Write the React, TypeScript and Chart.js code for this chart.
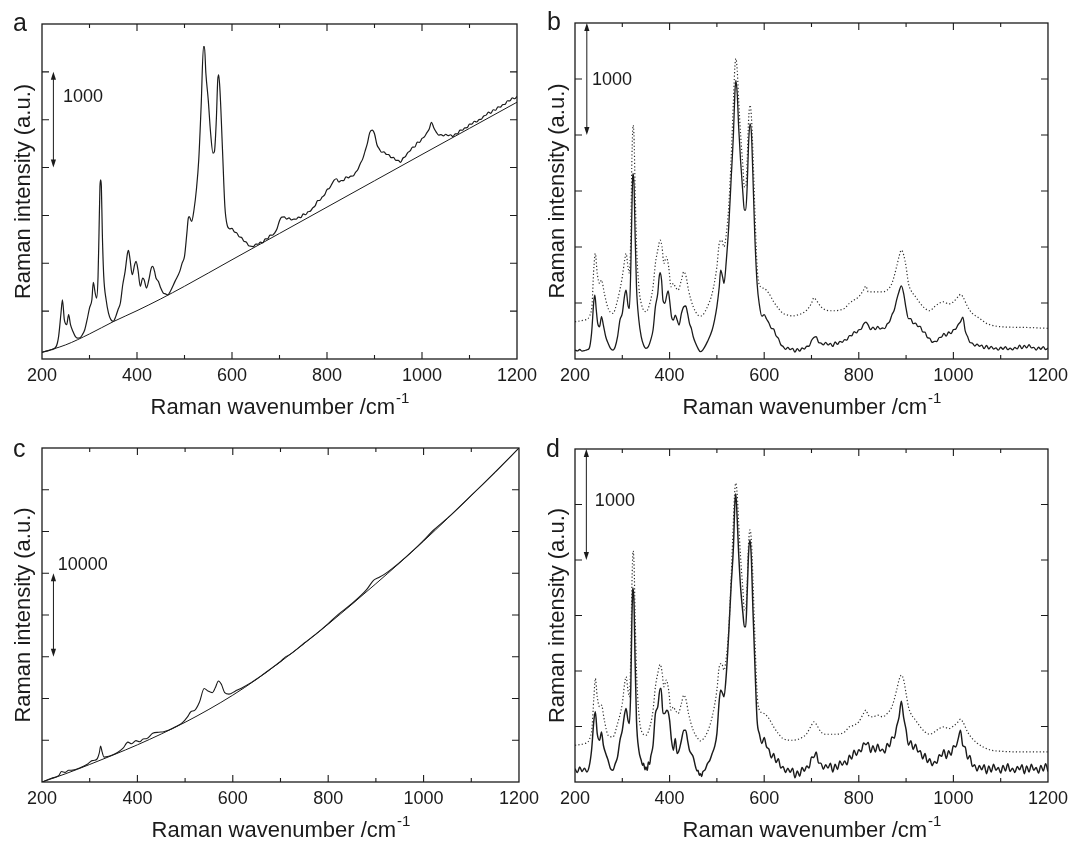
import React, { useEffect, useRef } from "react";
import { Chart, registerables } from "chart.js";

Chart.register(...registerables);

type Pt = [number, number];

const FONT = '"Liberation Sans", Arial, Helvetica, sans-serif';
const INK = "#1b1b1b";

// ---- Panel a: raw spectrum and fitted background ----
const SPECTRUM_A: Pt[] = [
  [200, 70], [210, 82], [220, 97], [230, 132], [235, 237], [240, 480], [243, 619], [247, 411], [252, 359], [256, 463],
  [260, 359], [265, 289], [270, 237], [275, 218], [280, 222], [285, 254], [290, 306], [295, 411], [300, 532], [305, 619],
  [308, 800], [312, 689], [315, 637], [318, 863], [320, 1315], [322, 1803], [323.5, 1872], [325, 1803], [327, 1315], [330, 863],
  [335, 619], [340, 480], [345, 411], [350, 393], [355, 440], [360, 515], [365, 585], [370, 776], [375, 915], [380, 1107],
  [382, 1134], [385, 1054], [390, 880], [395, 985], [398, 1020], [402, 933], [407, 759], [412, 846], [415, 828], [420, 741],
  [425, 828], [430, 950], [433, 967], [437, 915], [440, 846], [445, 811], [450, 741], [455, 692], [460, 680], [465, 670],
  [470, 706], [480, 811], [490, 915], [495, 1002], [500, 1072], [505, 1315], [508, 1472], [510, 1489], [515, 1437], [520, 1559],
  [525, 1768], [530, 2081], [535, 2638], [540, 3264], [542, 3264], [545, 2986], [550, 2707], [555, 2359], [560, 2151], [563, 2168],
  [567, 2499], [570, 2916], [572, 2968], [575, 2777], [580, 2185], [585, 1594], [590, 1395], [595, 1360], [600, 1364], [605, 1327],
  [610, 1318], [615, 1277], [620, 1271], [625, 1231], [630, 1223], [635, 1183], [640, 1178], [645, 1174], [650, 1200], [655, 1199],
  [660, 1222], [665, 1214], [670, 1256], [675, 1255], [680, 1295], [685, 1293], [690, 1318], [695, 1364], [700, 1445], [705, 1483],
  [710, 1484], [715, 1462], [720, 1474], [725, 1452], [730, 1461], [735, 1460], [740, 1483], [745, 1476], [750, 1517], [755, 1507],
  [760, 1538], [765, 1545], [770, 1579], [775, 1599], [780, 1654], [785, 1657], [790, 1693], [795, 1714], [800, 1770], [805, 1783],
  [810, 1826], [815, 1869], [820, 1883], [825, 1849], [830, 1865], [835, 1864], [840, 1904], [845, 1893], [850, 1910], [855, 1912],
  [860, 1950], [865, 1979], [870, 2041], [875, 2088], [880, 2170], [885, 2252], [890, 2365], [895, 2391], [900, 2353], [905, 2241],
  [910, 2195], [915, 2160], [920, 2165], [925, 2137], [930, 2136], [935, 2103], [940, 2106], [945, 2075], [950, 2076], [955, 2054],
  [960, 2100], [965, 2114], [970, 2157], [975, 2174], [980, 2214], [985, 2215], [990, 2265], [995, 2264], [1000, 2304], [1005, 2320],
  [1010, 2362], [1015, 2400], [1020, 2472], [1025, 2414], [1030, 2371], [1035, 2340], [1040, 2344], [1045, 2331], [1050, 2348], [1055, 2334],
  [1060, 2343], [1065, 2323], [1070, 2352], [1075, 2352], [1080, 2391], [1085, 2390], [1090, 2415], [1095, 2417], [1100, 2454], [1105, 2453],
  [1110, 2484], [1115, 2476], [1120, 2501], [1125, 2505], [1130, 2539], [1135, 2548], [1140, 2579], [1145, 2567], [1150, 2604], [1155, 2599],
  [1160, 2634], [1165, 2632], [1170, 2658], [1175, 2660], [1180, 2698], [1185, 2697], [1190, 2728], [1195, 2719], [1200, 2744],
];

const BASELINE_A: Pt[] = [
  [200, 70], [250, 148], [300, 262], [350, 390], [400, 505], [450, 628], [500, 760], [600, 1037],
  [700, 1312], [800, 1587], [900, 1862], [1000, 2137], [1100, 2410], [1200, 2683],
];

// ---- Panel b: background-subtracted spectrum (solid) and reference (dotted) ----
const SOLID_B: Pt[] = [
  [200, 80], [205, 72], [210, 85], [215, 70], [220, 74], [225, 82], [230, 95], [235, 229], [240, 526], [242, 571],
  [245, 437], [248, 318], [252, 288], [256, 378], [260, 303], [265, 199], [270, 140], [275, 95], [280, 80], [285, 110],
  [290, 199], [295, 348], [300, 407], [305, 571], [308, 615], [312, 482], [315, 452], [318, 824], [320, 1269], [322, 1626],
  [323, 1656], [325, 1537], [327, 1121], [330, 645], [335, 348], [340, 199], [345, 125], [350, 95], [355, 110], [360, 169],
  [365, 259], [370, 467], [375, 586], [378, 734], [380, 770], [383, 705], [386, 526], [390, 497], [394, 571], [397, 609],
  [400, 526], [404, 378], [408, 348], [412, 392], [416, 348], [420, 303], [425, 407], [430, 467], [434, 473], [438, 407],
  [442, 318], [446, 273], [450, 199], [455, 140], [460, 95], [465, 65], [470, 80], [480, 155], [490, 259], [495, 348],
  [500, 467], [505, 645], [508, 794], [512, 734], [515, 675], [520, 883], [525, 1180], [530, 1596], [535, 2013], [538, 2369],
  [540, 2488], [543, 2369], [546, 2072], [550, 1775], [555, 1478], [558, 1329], [561, 1329], [564, 1537], [567, 1924], [570, 2102],
  [573, 2013], [576, 1656], [580, 1121], [585, 675], [590, 479], [595, 382], [600, 396], [605, 357], [610, 322], [615, 274],
  [620, 269], [625, 207], [630, 185], [635, 128], [640, 112], [645, 86], [650, 103], [655, 84], [660, 94], [665, 62],
  [670, 92], [675, 70], [680, 98], [685, 89], [690, 114], [695, 114], [700, 165], [705, 191], [710, 200], [715, 148],
  [720, 142], [725, 126], [730, 148], [735, 126], [740, 139], [745, 112], [750, 152], [755, 130], [760, 158], [765, 149],
  [770, 173], [775, 169], [780, 209], [785, 207], [790, 245], [795, 233], [800, 261], [805, 266], [810, 311], [815, 330],
  [820, 302], [825, 262], [830, 285], [835, 263], [840, 291], [845, 267], [850, 277], [855, 272], [860, 313], [865, 332],
  [870, 394], [875, 438], [880, 528], [885, 601], [890, 653], [895, 582], [900, 451], [905, 360], [910, 360], [915, 315],
  [920, 321], [925, 289], [930, 292], [935, 242], [940, 239], [945, 191], [950, 185], [955, 148], [960, 157], [965, 156],
  [970, 192], [975, 195], [980, 228], [985, 204], [990, 241], [995, 226], [1000, 262], [1005, 267], [1010, 307], [1015, 332],
  [1020, 373], [1025, 251], [1030, 200], [1035, 148], [1040, 142], [1045, 116], [1050, 133], [1055, 114], [1060, 124], [1065, 92],
  [1070, 122], [1075, 90], [1080, 113], [1085, 89], [1090, 99], [1095, 79], [1100, 105], [1105, 87], [1110, 111], [1115, 83],
  [1120, 97], [1125, 81], [1130, 103], [1135, 91], [1140, 124], [1145, 92], [1150, 122], [1155, 100], [1160, 128], [1165, 99],
  [1170, 104], [1175, 79], [1180, 105], [1185, 87], [1190, 111], [1195, 83], [1200, 97],
];

const DOTTED_B: Pt[] = [
  [200, 333], [220, 348], [235, 437], [240, 824], [243, 942], [247, 764], [252, 675], [256, 705], [262, 586], [270, 452],
  [280, 407], [290, 526], [300, 734], [305, 883], [308, 942], [312, 824], [315, 764], [318, 1121], [320, 1715], [322, 2042],
  [323, 2087], [325, 1953], [327, 1537], [330, 1032], [335, 645], [340, 497], [350, 422], [360, 526], [365, 645], [370, 853],
  [375, 972], [380, 1061], [384, 1002], [388, 853], [393, 913], [398, 824], [403, 645], [408, 675], [412, 645], [418, 615],
  [425, 705], [430, 779], [435, 734], [440, 615], [450, 467], [460, 392], [465, 384], [470, 392], [480, 467], [490, 586],
  [500, 824], [505, 1032], [510, 1061], [515, 1002], [520, 1121], [525, 1359], [530, 1775], [535, 2310], [538, 2607], [540, 2682],
  [543, 2577], [546, 2310], [550, 2013], [555, 1715], [558, 1537], [561, 1537], [564, 1775], [567, 2132], [570, 2266], [573, 2161],
  [576, 1864], [580, 1359], [585, 824], [590, 660], [600, 630], [610, 586], [620, 511], [630, 452], [640, 407], [650, 392],
  [660, 384], [670, 392], [680, 407], [690, 437], [700, 497], [705, 547], [710, 526], [720, 467], [730, 437], [740, 431],
  [750, 431], [760, 437], [770, 452], [780, 497], [790, 526], [800, 556], [810, 615], [815, 651], [820, 600], [830, 600],
  [840, 600], [850, 600], [860, 615], [870, 675], [880, 824], [885, 913], [890, 972], [895, 928], [900, 824], [905, 675],
  [910, 615], [920, 556], [930, 497], [940, 452], [950, 431], [960, 467], [970, 497], [980, 511], [990, 491], [1000, 511],
  [1010, 556], [1015, 577], [1020, 556], [1030, 467], [1040, 407], [1050, 378], [1060, 348], [1070, 318], [1080, 303], [1100, 288],
  [1150, 282], [1200, 274],
];

// ---- Panel c: raw spectrum on a strong fluorescence background ----
const SPECTRUM_C: Pt[] = [
  [200, 0], [220, 450], [235, 760], [241, 1250], [248, 1150], [256, 1400], [265, 1420], [280, 1700], [295, 2130], [305, 2560],
  [310, 2600], [316, 2800], [320, 3450], [323, 4300], [326, 3600], [330, 2980], [340, 3080], [350, 3290], [360, 3600], [370, 4050],
  [380, 4780], [388, 4580], [397, 4950], [405, 4820], [412, 5150], [420, 5200], [432, 5830], [445, 5960], [455, 6020], [465, 6190],
  [480, 6610], [495, 7140], [505, 7800], [512, 8420], [520, 8580], [530, 9550], [540, 11200], [548, 10900], [557, 10700], [563, 11250],
  [570, 12100], [576, 11700], [583, 10700], [592, 10520], [605, 10880], [620, 11300], [640, 11960], [660, 12740], [680, 13580], [700, 14430],
  [710, 14960], [720, 15280], [750, 16640], [780, 17980], [800, 18960], [820, 20010], [850, 21380], [880, 23000], [895, 24150], [905, 24450],
  [920, 24950], [950, 26300], [980, 27820], [1000, 28930], [1020, 30120], [1050, 31600], [1100, 34320], [1150, 37120], [1200, 40000],
];

const BASELINE_C: Pt[] = [
  [200, 0], [250, 1000], [300, 2100], [350, 3250], [400, 4450], [450, 5750], [500, 7150], [550, 8700], [600, 10400], [650, 12300],
  [700, 14400], [750, 16600], [800, 18900], [850, 21300], [900, 23750], [950, 26250], [1000, 28850], [1050, 31550], [1100, 34300],
  [1150, 37100], [1200, 40000],
];

// ---- Panel d: background-subtracted spectrum (solid) and reference (dotted) ----
const SOLID_D: Pt[] = [
  [200, 120], [205, 85], [210, 135], [215, 95], [220, 125], [225, 90], [230, 140], [235, 286], [240, 557], [243, 632],
  [247, 436], [252, 376], [256, 451], [260, 331], [265, 256], [270, 196], [275, 120], [280, 105], [285, 165], [290, 226],
  [295, 376], [300, 466], [305, 617], [308, 662], [312, 557], [315, 527], [318, 858], [320, 1399], [322, 1730], [323, 1745],
  [325, 1580], [327, 1098], [330, 557], [335, 286], [340, 196], [343, 150], [345, 170], [348, 110], [350, 135], [353, 105],
  [355, 180], [358, 160], [360, 226], [365, 331], [370, 617], [375, 677], [380, 843], [382, 843], [386, 617], [390, 617],
  [394, 647], [397, 632], [400, 557], [404, 376], [408, 286], [412, 391], [416, 256], [420, 286], [425, 376], [430, 466],
  [434, 466], [438, 376], [442, 286], [446, 256], [450, 226], [455, 135], [458, 100], [460, 105], [463, 60], [465, 75],
  [468, 50], [470, 90], [475, 110], [480, 165], [485, 195], [490, 256], [495, 316], [500, 436], [505, 737], [508, 828],
  [512, 798], [515, 767], [520, 978], [525, 1339], [530, 1760], [535, 2121], [538, 2512], [540, 2597], [543, 2362], [546, 2061],
  [550, 1760], [555, 1520], [558, 1399], [561, 1399], [564, 1700], [567, 2061], [570, 2182], [573, 2001], [576, 1580], [580, 1098],
  [585, 557], [590, 431], [595, 346], [600, 401], [605, 316], [610, 296], [615, 216], [620, 256], [625, 175], [630, 210],
  [635, 125], [640, 140], [645, 85], [650, 125], [655, 87], [660, 125], [665, 37], [670, 100], [675, 52], [680, 130],
  [685, 97], [690, 145], [695, 125], [700, 226], [705, 221], [710, 271], [715, 170], [720, 170], [725, 115], [730, 155],
  [735, 125], [740, 170], [745, 90], [750, 160], [755, 112], [760, 190], [765, 150], [770, 190], [775, 155], [780, 241],
  [785, 206], [790, 286], [795, 238], [800, 291], [805, 273], [810, 351], [815, 336], [820, 357], [825, 266], [830, 326],
  [835, 271], [840, 341], [845, 278], [850, 296], [855, 261], [860, 346], [865, 318], [870, 406], [875, 395], [880, 501],
  [885, 582], [890, 727], [895, 577], [900, 471], [905, 331], [910, 371], [915, 293], [920, 341], [925, 271], [930, 281],
  [935, 208], [940, 256], [945, 175], [950, 210], [955, 147], [960, 185], [965, 168], [970, 246], [975, 231], [980, 291],
  [985, 211], [990, 281], [995, 241], [1000, 326], [1005, 316], [1010, 386], [1015, 466], [1020, 326], [1025, 316], [1030, 206],
  [1035, 240], [1040, 140], [1045, 155], [1050, 100], [1055, 148], [1060, 110], [1065, 155], [1070, 75], [1075, 145], [1080, 90],
  [1085, 160], [1090, 105], [1095, 130], [1100, 80], [1105, 150], [1110, 100], [1115, 165], [1120, 95], [1125, 125], [1130, 85],
  [1135, 140], [1140, 110], [1145, 155], [1150, 75], [1155, 145], [1160, 90], [1165, 160], [1170, 105], [1175, 130], [1180, 80],
  [1185, 150], [1190, 100], [1195, 165], [1200, 95],
];

const DOTTED_D: Pt[] = [
  [200, 331], [220, 346], [235, 451], [240, 767], [243, 933], [247, 767], [252, 677], [256, 692], [262, 557], [270, 421],
  [280, 406], [290, 527], [300, 707], [305, 888], [308, 948], [312, 828], [315, 767], [318, 1158], [320, 1700], [322, 2031],
  [323, 2082], [325, 1941], [327, 1520], [330, 1008], [335, 617], [340, 466], [350, 421], [360, 527], [365, 647], [370, 858],
  [375, 978], [380, 1059], [384, 993], [388, 858], [393, 918], [398, 828], [403, 647], [408, 677], [412, 647], [418, 617],
  [425, 707], [430, 782], [435, 737], [440, 617], [450, 466], [460, 391], [465, 370], [470, 382], [480, 451], [490, 587],
  [500, 828], [505, 1038], [510, 1068], [515, 1008], [520, 1128], [525, 1369], [530, 1820], [535, 2362], [538, 2633], [540, 2693],
  [543, 2588], [546, 2332], [550, 2031], [555, 1730], [558, 1550], [561, 1550], [564, 1790], [567, 2151], [570, 2272], [573, 2167],
  [576, 1850], [580, 1339], [585, 797], [590, 647], [600, 617], [610, 572], [620, 497], [630, 436], [640, 391], [660, 376],
  [670, 382], [680, 400], [690, 436], [700, 512], [705, 542], [710, 521], [720, 451], [730, 430], [750, 430], [770, 451],
  [780, 497], [790, 512], [800, 542], [810, 617], [815, 647], [820, 602], [830, 587], [840, 602], [850, 587], [860, 617],
  [870, 677], [880, 828], [885, 918], [890, 963], [895, 918], [900, 797], [905, 677], [910, 617], [920, 557], [930, 497],
  [940, 451], [950, 430], [960, 451], [970, 481], [980, 497], [990, 481], [1000, 503], [1010, 542], [1015, 566], [1020, 542],
  [1030, 451], [1040, 391], [1050, 352], [1060, 322], [1070, 301], [1080, 286], [1100, 277], [1150, 271], [1200, 271],
];

// Wavenumber axis range and intensity-axis setup per panel
const X_RANGE: [number, number] = [200, 1200];
const X_LABEL_STEP = 200;
const X_MINOR_STEP = 100;
const Y_MAX = { a: 3500, b: 3000, c: 40000, d: 3000 };
const Y_STEP = { a: 500, b: 500, c: 5000, d: 500 };

// Intensity scale bars: wavenumber position, span, text and its anchor
const SCALE_BARS = {
  a: { x: 224, from: 3000, to: 2000, text: "1000", tx: 244, ty: 2740 },
  b: { x: 225, from: 3000, to: 2000, text: "1000", tx: 236, ty: 2490 },
  c: { x: 224, from: 25000, to: 15000, text: "10000", tx: 233, ty: 26000 },
  d: { x: 224, from: 3000, to: 2000, text: "1000", tx: 242, ty: 2527 },
};

type Series = { pts: Pt[]; dotted?: boolean; width: number };

type PanelSpec = {
  key: "a" | "b" | "c" | "d";
  left: number;
  top: number;
  width: number;
  height: number;
  plotLeft: number;
  plotRight: number;
  plotTop: number;
  plotBottom: number;
  letterX: number;
  letterY: number;
  series: Series[];
};

const PANELS: PanelSpec[] = [
  {
    key: "a", left: 0, top: 0, width: 545, height: 420,
    plotLeft: 42, plotRight: 517, plotTop: 24, plotBottom: 359, letterX: 13, letterY: 31,
    series: [
      { pts: SPECTRUM_A, width: 1.2 },
      { pts: BASELINE_A, width: 1.0 },
    ],
  },
  {
    key: "b", left: 534, top: 0, width: 540, height: 420,
    plotLeft: 41, plotRight: 519, plotTop: 23, plotBottom: 359, letterX: 13, letterY: 30,
    series: [
      { pts: DOTTED_B, dotted: true, width: 1.2 },
      { pts: SOLID_B, width: 1.3 },
    ],
  },
  {
    key: "c", left: 0, top: 420, width: 545, height: 424,
    plotLeft: 42, plotRight: 519, plotTop: 28, plotBottom: 362, letterX: 13, letterY: 37,
    series: [
      { pts: SPECTRUM_C, width: 1.1 },
      { pts: BASELINE_C, width: 1.0 },
    ],
  },
  {
    key: "d", left: 534, top: 420, width: 540, height: 424,
    plotLeft: 41, plotRight: 516, plotTop: 29, plotBottom: 362, letterX: 12, letterY: 37,
    series: [
      { pts: DOTTED_D, dotted: true, width: 1.2 },
      { pts: SOLID_D, width: 1.45 },
    ],
  },
];

// Frame, inward ticks on all sides, axis title with superscript, panel letter and intensity bar
function decorations(spec: PanelSpec) {
  return {
    id: "decorations-" + spec.key,
    afterDraw(chart: any) {
      const { ctx, chartArea: area, scales } = chart;
      const xs = scales.x;
      const ys = scales.y;
      ctx.save();
      ctx.strokeStyle = INK;
      ctx.fillStyle = INK;

      ctx.lineWidth = 1.3;
      ctx.strokeRect(area.left, area.top, area.right - area.left, area.bottom - area.top);

      ctx.lineWidth = 1.1;
      ctx.beginPath();
      for (let v = X_RANGE[0] + X_MINOR_STEP; v < X_RANGE[1]; v += X_MINOR_STEP) {
        const px = xs.getPixelForValue(v);
        const len = v % X_LABEL_STEP === 0 ? 7 : 4;
        ctx.moveTo(px, area.bottom);
        ctx.lineTo(px, area.bottom - len);
        ctx.moveTo(px, area.top);
        ctx.lineTo(px, area.top + len);
      }
      ys.ticks.forEach((t: any) => {
        if (t.value <= ys.min || t.value >= ys.max) return;
        const py = ys.getPixelForValue(t.value);
        ctx.moveTo(area.left, py);
        ctx.lineTo(area.left + 7, py);
        ctx.moveTo(area.right, py);
        ctx.lineTo(area.right - 7, py);
      });
      ctx.stroke();

      // x-axis title with superscript exponent
      const main = "Raman wavenumber /cm";
      const sup = "-1";
      ctx.font = `22px ${FONT}`;
      const w1 = ctx.measureText(main).width;
      ctx.font = `15px ${FONT}`;
      const w2 = ctx.measureText(sup).width;
      const cx = (area.left + area.right) / 2;
      const base = area.bottom + 55;
      const startX = cx - (w1 + w2) / 2;
      ctx.textAlign = "left";
      ctx.textBaseline = "alphabetic";
      ctx.font = `22px ${FONT}`;
      ctx.fillText(main, startX, base);
      ctx.font = `15px ${FONT}`;
      ctx.fillText(sup, startX + w1 + 1, base - 11);

      // panel letter
      ctx.font = `25px ${FONT}`;
      ctx.fillText(spec.key, spec.letterX, spec.letterY);

      // intensity scale bar with arrowheads
      const bar = SCALE_BARS[spec.key];
      const bx = xs.getPixelForValue(bar.x);
      const y1 = ys.getPixelForValue(bar.from);
      const y2 = ys.getPixelForValue(bar.to);
      ctx.lineWidth = 1;
      ctx.beginPath();
      ctx.moveTo(bx, y1 + 3);
      ctx.lineTo(bx, y2 - 3);
      ctx.stroke();
      const head = 8;
      const half = 2.6;
      ctx.beginPath();
      ctx.moveTo(bx, y1);
      ctx.lineTo(bx - half, y1 + head);
      ctx.lineTo(bx + half, y1 + head);
      ctx.closePath();
      ctx.fill();
      ctx.beginPath();
      ctx.moveTo(bx, y2);
      ctx.lineTo(bx - half, y2 - head);
      ctx.lineTo(bx + half, y2 - head);
      ctx.closePath();
      ctx.fill();

      ctx.font = `18px ${FONT}`;
      ctx.textBaseline = "middle";
      ctx.fillText(bar.text, xs.getPixelForValue(bar.tx), ys.getPixelForValue(bar.ty));
      ctx.restore();
    },
  };
}

function Panel({ spec }: { spec: PanelSpec }) {
  const ref = useRef<HTMLCanvasElement | null>(null);

  useEffect(() => {
    const canvas = ref.current;
    if (!canvas) return;
    const chart = new Chart(canvas, {
      type: "line",
      data: {
        datasets: spec.series.map((s) => ({
          data: s.pts.map(([x, y]) => ({ x, y })),
          borderColor: s.dotted ? "#2e2e2e" : INK,
          borderWidth: s.width,
          borderDash: s.dotted ? [1.2, 2.2] : [],
          pointRadius: 0,
          fill: false,
          cubicInterpolationMode: "monotone",
        })),
      },
      options: {
        responsive: false,
        animation: false,
        devicePixelRatio: 1,
        layout: {
          padding: { left: 0, top: spec.plotTop, right: spec.width - spec.plotRight, bottom: 0 },
        },
        plugins: { legend: { display: false }, tooltip: { enabled: false } },
        scales: {
          x: {
            type: "linear",
            position: "bottom",
            min: X_RANGE[0],
            max: X_RANGE[1],
            afterFit: (s: any) => {
              s.height = spec.height - spec.plotBottom;
            },
            grid: { display: false, drawTicks: false },
            border: { display: false },
            ticks: {
              stepSize: X_LABEL_STEP,
              autoSkip: false,
              maxRotation: 0,
              padding: 6,
              color: INK,
              font: { family: FONT, size: 18 },
              callback: (v: any) => String(v),
            },
          },
          y: {
            type: "linear",
            min: 0,
            max: Y_MAX[spec.key],
            afterFit: (s: any) => {
              s.width = spec.plotLeft;
            },
            grid: { display: false, drawTicks: false },
            border: { display: false },
            ticks: { display: false, stepSize: Y_STEP[spec.key] },
            title: {
              display: true,
              text: "Raman intensity (a.u.)",
              color: INK,
              font: { family: FONT, size: 22 },
              padding: { top: 11, bottom: 0 },
            },
          },
        },
      },
      plugins: [decorations(spec)],
    } as any);
    return () => chart.destroy();
  }, [spec]);

  return (
    <canvas
      ref={ref}
      width={spec.width}
      height={spec.height}
      style={{ position: "absolute", left: spec.left, top: spec.top, width: spec.width, height: spec.height }}
    />
  );
}

export default function App() {
  return (
    <div
      style={{
        position: "absolute",
        left: 0,
        top: 0,
        width: 1074,
        height: 844,
        background: "#ffffff",
        overflow: "hidden",
      }}
    >
      {PANELS.map((p) => (
        <Panel key={p.key} spec={p} />
      ))}
    </div>
  );
}
